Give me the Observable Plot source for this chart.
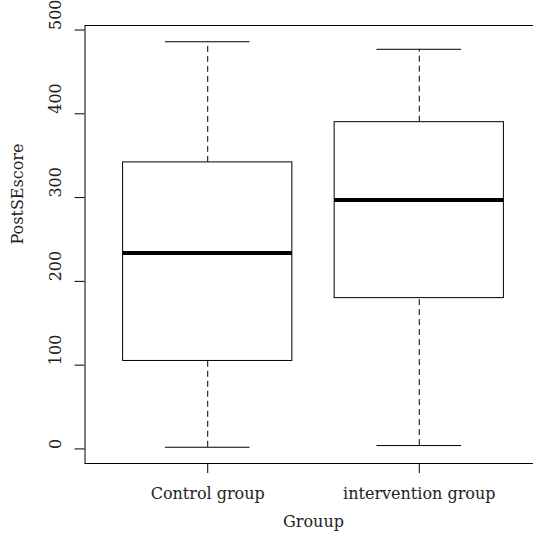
<!DOCTYPE html>
<html>
<head>
<meta charset="utf-8">
<script src="https://cdn.jsdelivr.net/npm/d3@7"></script>
<script src="https://cdn.jsdelivr.net/npm/@observablehq/plot@0.6"></script>
<style>
  html, body { margin: 0; padding: 0; background: white; overflow: hidden; }
</style>
</head>
<body>
<div id="chart"></div>
<script>
// Data
const groups = ["Control group", "intervention group"];
const positions = [1, 2];
const lowerWhisker = [2, 4];
const lowerQuartile = [105, 180];
const medians = [234, 297];
const upperQuartile = [342, 390];
const upperWhisker = [486, 477];
const yTicks = [0, 100, 200, 300, 400, 500];
const yLabel = "PostSEscore";
const xLabel = "Grouup";

const table = groups.map((g, i) => ({
  group: g,
  pos: positions[i],
  lo: lowerWhisker[i],
  q1: lowerQuartile[i],
  med: medians[i],
  q3: upperQuartile[i],
  hi: upperWhisker[i]
}));

const boxHalf = 0.4;
const capHalf = 0.2;
const dash = "6,4";

const chart = Plot.plot({
  width: 533,
  height: 536,
  marginLeft: 84.5,
  marginRight: -8.5,
  marginTop: 25,
  marginBottom: 73,
  style: { fontFamily: "DejaVu Serif", fontSize: "16px", background: "white", color: "#000" },
  x: { type: "linear", domain: [0.42, 2.58], axis: null },
  y: { domain: [-17.4, 505.4], axis: null },
  marks: [
    Plot.frame({ stroke: "#000", strokeWidth: 1 }),
    // y axis ticks
    Plot.axisY({ ticks: yTicks, tickSize: 10, tickFormat: () => "", label: null, stroke: "#000" }),
    Plot.text(yTicks, { y: d => d, text: d => String(d), frameAnchor: "left", dx: -29, rotate: -90, fill: "#222", fontSize: 16 }),
    // x axis
    Plot.axisX({ ticks: positions, tickSize: 10, tickPadding: 14, tickFormat: d => groups[positions.indexOf(d)], label: null, stroke: "#000", fill: "#222", fontSize: 16 }),
    // axis titles
    Plot.text([yLabel], { text: d => d, frameAnchor: "left", dx: -67, rotate: -90, fill: "#222", fontSize: 16 }),
    Plot.text([xLabel], { text: d => d, frameAnchor: "bottom", dy: 63, fill: "#222", fontSize: 16 }),
    // whiskers (dashed)
    Plot.ruleX(table, { x: "pos", y1: "q3", y2: "hi", stroke: "#000", strokeDasharray: dash }),
    Plot.ruleX(table, { x: "pos", y1: "lo", y2: "q1", stroke: "#000", strokeDasharray: dash }),
    // whisker caps
    Plot.ruleY(table, { y: "hi", x1: d => d.pos - capHalf, x2: d => d.pos + capHalf, stroke: "#000" }),
    Plot.ruleY(table, { y: "lo", x1: d => d.pos - capHalf, x2: d => d.pos + capHalf, stroke: "#000" }),
    // boxes
    Plot.rect(table, { x1: d => d.pos - boxHalf, x2: d => d.pos + boxHalf, y1: "q1", y2: "q3", fill: "white", stroke: "#000", strokeWidth: 1 }),
    // medians
    Plot.ruleY(table, { y: "med", x1: d => d.pos - boxHalf, x2: d => d.pos + boxHalf, stroke: "#000", strokeWidth: 4 })
  ]
});
document.getElementById("chart").appendChild(chart);
</script>
</body>
</html>
